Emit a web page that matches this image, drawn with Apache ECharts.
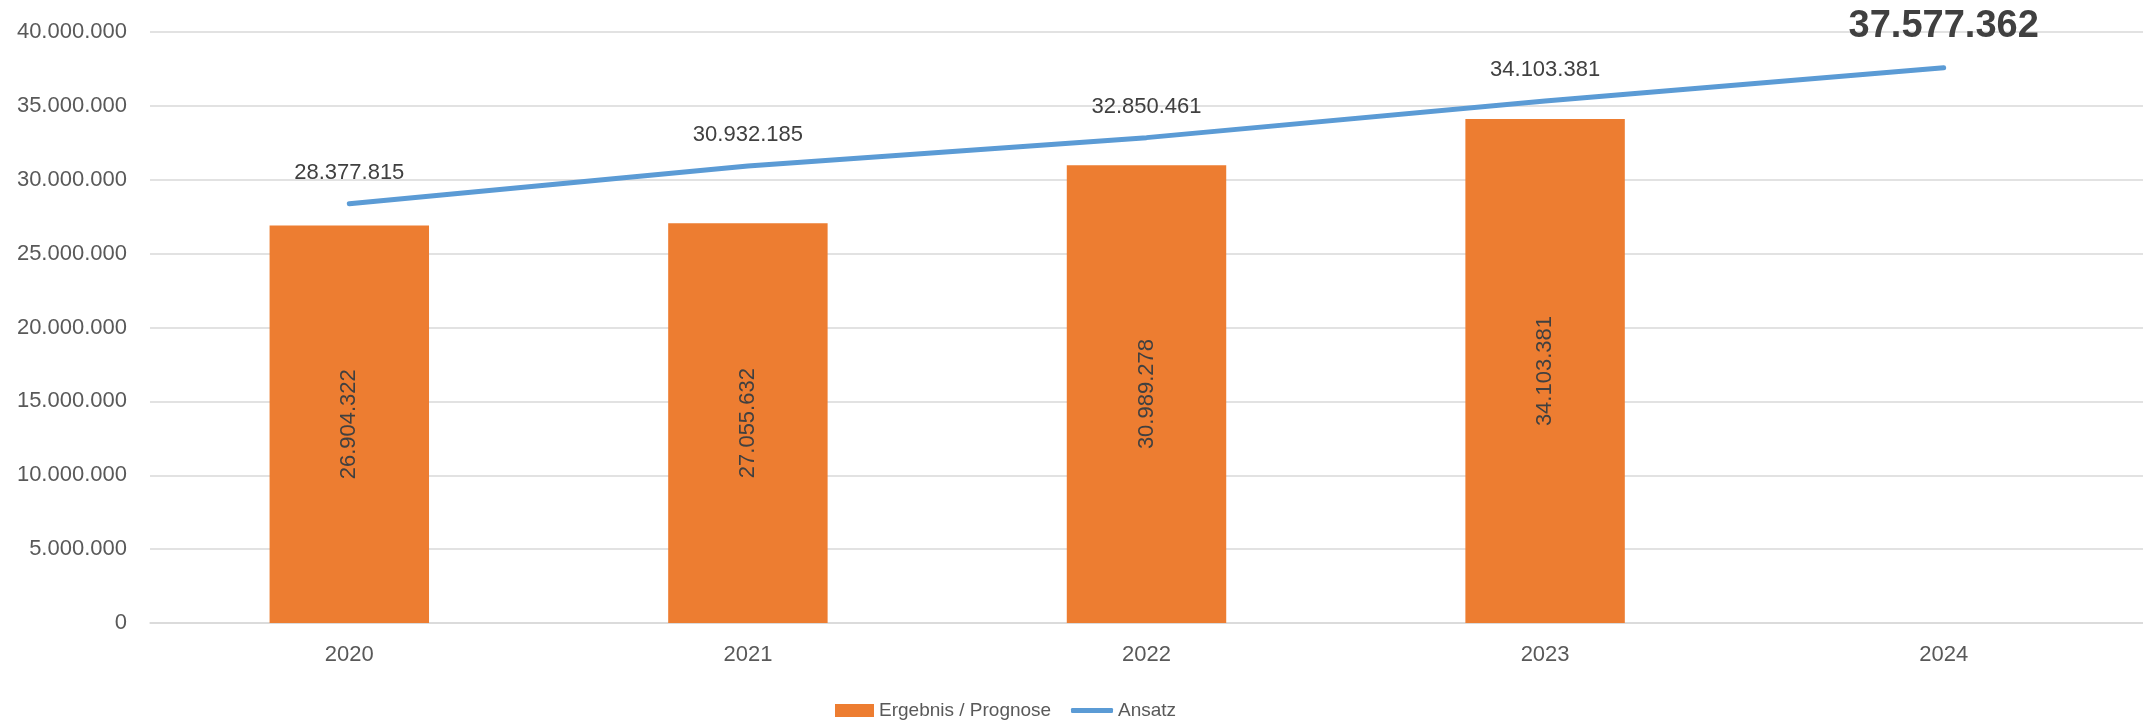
<!DOCTYPE html>
<html>
<head>
<meta charset="utf-8">
<script src="https://cdn.jsdelivr.net/npm/echarts@6/dist/echarts.min.js"></script>
<style>
html,body{margin:0;padding:0;background:#fff;}
#chart{width:2143px;height:721px;}
</style>
</head>
<body>
<div id="chart"></div>
<script>
const categories = ['2020', '2021', '2022', '2023', '2024'];
const barValues = [26904322, 27055632, 30989278, 34103381, null];
const lineValues = [28377815, 30932185, 32850461, 35330000, 37577362];
const lineLabels = ['28.377.815', '30.932.185', '32.850.461', '34.103.381', '37.577.362'];
const yTicks = [0, 5000000, 10000000, 15000000, 20000000, 25000000, 30000000, 35000000, 40000000];

function fmt(v) {
  return String(Math.round(v)).replace(/\B(?=(\d{3})+(?!\d))/g, '.');
}

const FONT = '"Liberation Sans", Arial, sans-serif';
const chart = echarts.init(document.getElementById('chart'));
chart.setOption({
  animation: false,
  backgroundColor: '#ffffff',
  textStyle: { fontFamily: FONT },
  grid: { left: 150, right: 0, top: 32, bottom: 98, containLabel: false },
  legend: [
    {
      data: [{ name: 'Ergebnis / Prognose', icon: 'rect' }],
      left: 830, top: 696,
      itemWidth: 39, itemHeight: 13,
      textStyle: { fontSize: 19, color: '#595959', fontFamily: FONT }
    },
    {
      data: [{ name: 'Ansatz', icon: 'roundRect' }],
      left: 1066, top: 696,
      itemWidth: 42, itemHeight: 5,
      textStyle: { fontSize: 19, color: '#595959', fontFamily: FONT }
    }
  ],
  xAxis: {
    type: 'category',
    data: categories,
    axisTick: { show: false },
    axisLine: { lineStyle: { color: '#d9d9d9', width: 1.5 } },
    axisLabel: { color: '#595959', fontSize: 22, margin: 21, fontFamily: FONT }
  },
  yAxis: {
    type: 'value',
    min: yTicks[0],
    max: yTicks[yTicks.length - 1],
    interval: yTicks[1] - yTicks[0],
    axisLine: { show: false },
    axisTick: { show: false },
    splitLine: { lineStyle: { color: '#d9d9d9', width: 1.5 } },
    axisLabel: { color: '#595959', fontSize: 22, margin: 23, fontFamily: FONT, formatter: v => fmt(v) }
  },
  series: [
    {
      name: 'Ergebnis / Prognose',
      type: 'bar',
      data: barValues,
      barWidth: '40%',
      itemStyle: { color: '#ED7D31' },
      label: {
        show: true,
        position: 'inside',
        rotate: 90,
        color: '#404040',
        fontSize: 22,
        fontFamily: FONT,
        formatter: p => fmt(p.value)
      }
    },
    {
      name: 'Ansatz',
      type: 'line',
      data: lineValues.map((v, i) => i === lineValues.length - 1 ? {
        value: v,
        label: { fontSize: 38, fontWeight: 'bold', distance: 21 }
      } : v),
      symbol: 'circle',
      symbolSize: 2,
      showSymbol: true,
      lineStyle: { color: '#5B9BD5', width: 5, cap: 'round' },
      itemStyle: { color: '#5B9BD5' },
      label: {
        show: true,
        position: 'top',
        distance: 19,
        color: '#404040',
        fontSize: 22,
        fontFamily: FONT,
        formatter: p => lineLabels[p.dataIndex]
      },
      z: 3
    }
  ]
});
</script>
</body>
</html>
